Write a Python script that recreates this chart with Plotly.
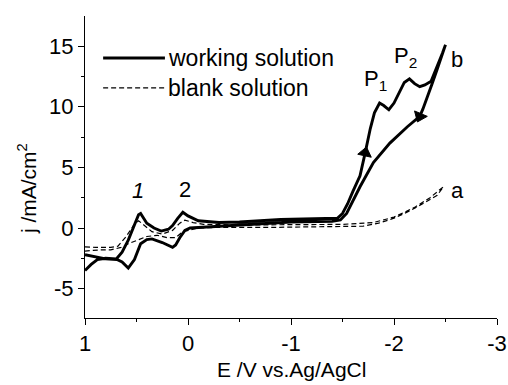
import plotly.graph_objects as go

# Working solution CV (forward scan then return), E in V, j in mA/cm2
work_x = [1.00, 0.90, 0.80, 0.70, 0.64, 0.58, 0.52, 0.48, 0.46, 0.40, 0.33, 0.26, 0.19, 0.15, 0.10, 0.05,
          0.00, -0.10, -0.30, -0.50, -0.90, -1.20, -1.45,
          -1.50, -1.55, -1.60, -1.67, -1.72, -1.77, -1.81, -1.86, -1.90, -1.95, -2.00, -2.05, -2.10,
          -2.15, -2.20, -2.25, -2.30, -2.36, -2.42, -2.47, -2.50,
          -2.47, -2.42, -2.37, -2.33, -2.28, -2.25, -2.13, -1.96, -1.80, -1.67, -1.54, -1.48, -1.40, -1.00,
          -0.70, -0.40, -0.10, -0.02, 0.03, 0.08, 0.12, 0.15, 0.25, 0.35, 0.40, 0.46, 0.52, 0.58,
          0.64, 0.70, 0.80, 0.88, 0.94, 1.00]
work_y = [-2.2, -2.4, -2.55, -2.6, -2.0, -1.0, 0.3, 1.1, 1.2, 0.4, 0.0, -0.25, -0.1, 0.2, 0.8, 1.3,
          1.0, 0.6, 0.45, 0.5, 0.7, 0.75, 0.8,
          1.2, 2.0, 3.0, 4.3, 6.2, 8.2, 9.5, 10.3, 10.1, 9.75, 10.3, 11.2, 12.0,
          12.3, 11.9, 11.65, 11.8, 12.1, 13.3, 14.4, 15.1,
          14.3, 13.1, 11.9, 10.9, 9.8, 9.2, 8.35, 7.0, 5.4, 3.4, 1.2, 0.66, 0.55, 0.5,
          0.35, 0.15, 0.05, 0.0, -0.2, -0.8, -1.4, -1.6, -1.2, -0.9, -0.95, -1.3, -2.6, -3.3,
          -2.8, -2.55, -2.5, -2.6, -3.0, -3.5]

# Blank solution CV
blank_x = [1.00, 0.90, 0.75, 0.68, 0.60, 0.53, 0.48, 0.42, 0.35, 0.25, 0.15, 0.08, 0.03, -0.05, -0.15,
           -0.50, -1.00, -1.50, -1.80, -2.00, -2.20, -2.35, -2.48,
           -2.42, -2.30, -2.15, -2.00, -1.85, -1.70, -1.30, -0.80, -0.30, -0.10, 0.05, 0.12, 0.20,
           0.30, 0.40, 0.50, 0.58, 0.65, 0.75, 0.85, 1.00]
blank_y = [-1.55, -1.6, -1.6, -1.5, -0.7, 0.2, 0.6, 0.2, -0.3, -0.5, -0.2, 0.4, 0.65, 0.45, 0.3,
           0.25, 0.3, 0.3, 0.45, 0.9, 1.7, 2.5, 3.4,
           2.7, 2.1, 1.4, 0.8, 0.4, 0.15, 0.1, 0.05, 0.05, 0.0, -0.3, -0.8, -0.8,
           -0.6, -0.7, -1.0, -1.3, -1.6, -1.8, -1.8, -1.9]

x_ticks = [1, 0, -1, -2, -3]
y_ticks = [-5, 0, 5, 10, 15]

FONT = "Arial, Liberation Sans, sans-serif"

fig = go.Figure()
fig.add_trace(go.Scatter(x=work_x, y=work_y, mode="lines", name="working solution",
                         line=dict(color="black", width=2.9), showlegend=False))
fig.add_trace(go.Scatter(x=blank_x, y=blank_y, mode="lines", name="blank solution",
                         line=dict(color="black", width=1.2, dash="5px,3px"), showlegend=False))

# direction arrows along the working curve (forward rise, and return descent)
i_turn = work_y.index(max(work_y))
i_up = work_x.index(-1.72)
i_dn = work_x.index(-2.25, i_turn)
for i in (i_up, i_dn):
    fig.add_trace(go.Scatter(x=[work_x[i - 1], work_x[i]], y=[work_y[i - 1], work_y[i]],
                             mode="markers", showlegend=False, hoverinfo="skip",
                             marker=dict(symbol="triangle-up", size=[0, 12], color="black",
                                         opacity=1, angleref="previous",
                                         line=dict(width=1, color="black"))))

# manual legend
fig.add_shape(type="line", xref="paper", yref="paper", x0=0.044, x1=0.194, y0=0.861, y1=0.861,
              line=dict(color="black", width=2.9))
fig.add_shape(type="line", xref="paper", yref="paper", x0=0.044, x1=0.194, y0=0.762, y1=0.762,
              line=dict(color="black", width=1.2, dash="5px,3px"))
fig.add_annotation(x=0.197, y=0.861, xref="paper", yref="paper", text="working solution",
                   showarrow=False, xanchor="left", yanchor="middle", font=dict(size=23))
fig.add_annotation(x=0.197, y=0.762, xref="paper", yref="paper", text="blank solution",
                   showarrow=False, xanchor="left", yanchor="middle", font=dict(size=23))

# peak labels
labels = [(0.485, 3.1, "<i>1</i>"), (0.03, 3.2, "2"), (-1.82, 12.2, "P<sub>1</sub>"),
          (-2.11, 14.1, "P<sub>2</sub>"), (-2.61, 13.9, "b"), (-2.62, 3.1, "a")]
for lx, ly, lt in labels:
    fig.add_annotation(x=lx, y=ly, text=lt, showarrow=False, font=dict(size=22),
                       xanchor="center", yanchor="middle")

# axis titles
fig.add_annotation(x=-0.141, y=0.43, xref="paper", yref="paper", text="j /mA/cm<sup>2</sup>",
                   textangle=-90, showarrow=False, font=dict(size=21),
                   xanchor="center", yanchor="middle")
fig.add_annotation(x=0.5, y=-0.172, xref="paper", yref="paper", text="E /V vs.Ag/AgCl",
                   showarrow=False, font=dict(size=21), xanchor="center", yanchor="middle")

fig.update_layout(
    width=508, height=385,
    margin=dict(l=85, r=11, t=16, b=67, autoexpand=False),
    paper_bgcolor="white", plot_bgcolor="white",
    font=dict(family=FONT, color="black", size=20),
    showlegend=False,
)
fig.update_xaxes(range=[1, -3], tickvals=x_ticks, ticktext=[str(v) for v in x_ticks],
                 showgrid=False, zeroline=False, showline=True, linecolor="black", linewidth=1,
                 ticks="outside", ticklen=6, tickcolor="black", automargin=False,
                 minor=dict(dtick=0.5, ticks="outside", ticklen=3, tickcolor="black", showgrid=False),
                 tickfont=dict(size=22))
fig.update_yaxes(range=[-7.42, 17.48], tickvals=y_ticks, ticktext=[str(v) for v in y_ticks],
                 showgrid=False, zeroline=False, showline=True, linecolor="black", linewidth=1,
                 ticks="outside", ticklen=6, tickcolor="black", automargin=False,
                 minor=dict(dtick=2.5, ticks="outside", ticklen=3, tickcolor="black", showgrid=False),
                 tickfont=dict(size=22))

fig.write_html("out.html", config={"displayModeBar": False},
               post_script="document.body.style.margin='0';document.body.style.overflow='hidden';")
